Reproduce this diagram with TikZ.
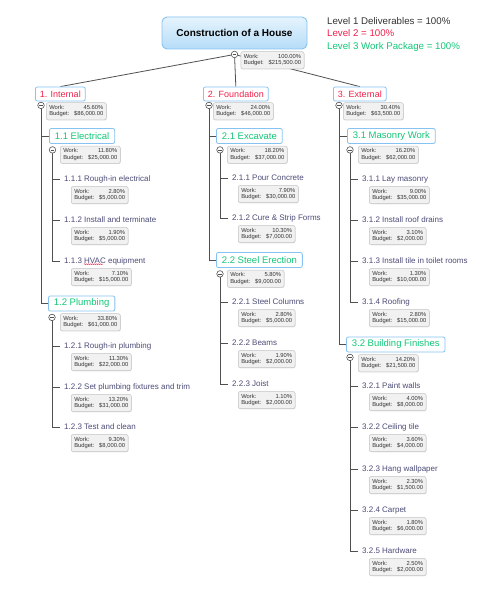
\documentclass[tikz,border=0pt]{standalone}
\usepackage{fontspec}
\setmainfont{Liberation Sans}
\usetikzlibrary{positioning,backgrounds,shadows,decorations.pathmorphing}
\definecolor{wbsLine}{HTML}{505050}
\definecolor{wbsBlue}{HTML}{86C3F2}
\definecolor{wbsRootTop}{HTML}{E6F4FD}
\definecolor{wbsRootBot}{HTML}{B6DCF8}
\definecolor{wbsRed}{HTML}{F0204A}
\definecolor{wbsGreen}{HTML}{12C877}
\definecolor{wbsTask}{HTML}{4C4C78}
\definecolor{wbsInfo}{HTML}{F1F1F1}
\definecolor{wbsInfoLine}{HTML}{C4C4C4}
\definecolor{wbsInk}{HTML}{333333}
\newcommand{\wb}[2]{\begin{tabular}{@{}l@{\hspace{5pt}}r@{}}Work: & #1\%\\Budget: & \$#2\end{tabular}}

\begin{document}
\begin{tikzpicture}[
  x=1pt,y=-1pt,
  root/.style={draw=wbsBlue,top color=wbsRootTop,bottom color=wbsRootBot,rounded corners=5pt,line width=0.9pt,minimum width=145pt,minimum height=32pt,font=\bfseries\fontsize{10}{12}\selectfont},
  lone/.style={draw=wbsBlue,fill=white,rounded corners=2pt,line width=0.8pt,text=wbsRed,font=\fontsize{9}{10}\selectfont,minimum height=14pt,inner xsep=4.5pt,inner ysep=0pt},
  ltwo/.style={lone,text=wbsGreen,font=\fontsize{9.5}{11}\selectfont,minimum height=15pt,inner xsep=5.5pt},
  task/.style={text=wbsTask,font=\fontsize{8}{9}\selectfont,inner sep=0pt,text height=6pt,text depth=2pt},
  info/.style={draw=wbsInfoLine,fill=wbsInfo,rounded corners=2pt,line width=0.5pt,inner xsep=3pt,inner ysep=2pt,text=wbsInk,font=\fontsize{5.8}{6.6}\selectfont,drop shadow={opacity=0.2,shadow xshift=0.6pt,shadow yshift=-0.6pt}},
  tog/.style={circle,draw=wbsLine,fill=white,line width=0.6pt,minimum size=6.5pt,inner sep=0pt,
    path picture={\draw[wbsLine,line width=0.6pt] ([xshift=-1.8pt]path picture bounding box.center) -- ([xshift=1.8pt]path picture bounding box.center);}},
  link/.style={draw=wbsLine,line width=0.8pt},
  tick/.style={link,shorten >=4.5pt},
  spell/.style={wbsRed,line width=0.4pt,decorate,decoration={snake,amplitude=0.5pt,segment length=2pt}}
]
  \useasboundingbox (0,0) rectangle (482,599);

  % top of the tree
  \node[root] (house) at (234.5,33) {Construction of a House};
  \node[tog] (houseC) at ([yshift=-5pt]house.south) {};
  \node[info,below right=2pt and 6pt of house.south] (houseW) {\wb{100.00}{215,500.00}};
  \node[anchor=north west,inner sep=0pt,align=left,font=\fontsize{9.7}{12.5}\selectfont] (lgd) at (327,17)
    {\textcolor{wbsInk}{Level 1 Deliverables = 100\%}\\\textcolor{wbsRed}{Level 2 = 100\%}\\\textcolor{wbsGreen}{Level 3 Work Package = 100\%}};

  % level 1
  \node[lone,anchor=west] (intl) at (35,94) {1. Internal};
  \node[lone,anchor=west] (found) at (203,94) {2. Foundation};
  \node[lone,anchor=west] (extl) at (333,94) {3. External};
  \node[tog] (intlC) at ([xshift=6pt,yshift=-4pt]intl.south west) {};
  \node[tog] (foundC) at ([xshift=6pt,yshift=-4pt]found.south west) {};
  \node[tog] (extlC) at ([xshift=6pt,yshift=-4pt]extl.south west) {};
  \node[info,below right=1pt and 11pt of intl.south west] (intlW) {\wb{45.60}{86,000.00}};
  \node[info,below right=1pt and 10pt of found.south west] (foundW) {\wb{24.00}{46,000.00}};
  \node[info,below right=1pt and 10pt of extl.south west] (extlW) {\wb{30.40}{63,500.00}};

  % 1. Internal
  \node[ltwo,anchor=west] (elec) at (49,136) {1.1 Electrical};
  \node[tog] (elecC) at ([xshift=3.5pt,yshift=-6pt]elec.south west) {};
  \node[info,below right=2pt and 11pt of elec.south west] (elecW) {\wb{11.80}{25,000.00}};
  \node[task,anchor=west] (rin) at (64,179) {1.1.1 Rough-in electrical};
  \node[info,below right=3pt and 7pt of rin.south west] (rinW) {\wb{2.80}{5,000.00}};
  \node[task,anchor=west] (term) at (64,220) {1.1.2 Install and terminate};
  \node[info,below right=3pt and 7pt of term.south west] (termW) {\wb{1.90}{5,000.00}};
  \node[task,anchor=west] (hvac) at (64,261) {1.1.3 HVAC equipment};
  \node[info,below right=3pt and 7pt of hvac.south west] (hvacW) {\wb{7.10}{15,000.00}};
  \node[ltwo,anchor=west] (plumb) at (48,303.5) {1.2 Plumbing};
  \node[tog] (plumbC) at ([xshift=4pt,yshift=-6pt]plumb.south west) {};
  \node[info,below right=2pt and 12pt of plumb.south west] (plumbW) {\wb{33.80}{61,000.00}};
  \node[task,anchor=west] (rinp) at (64,346) {1.2.1 Rough-in plumbing};
  \node[info,below right=3pt and 7pt of rinp.south west] (rinpW) {\wb{11.30}{22,000.00}};
  \node[task,anchor=west] (fixt) at (64,387) {1.2.2 Set plumbing fixtures and trim};
  \node[info,below right=3pt and 7pt of fixt.south west] (fixtW) {\wb{13.20}{31,000.00}};
  \node[task,anchor=west] (clean) at (64,427) {1.2.3 Test and clean};
  \node[info,below right=3pt and 7pt of clean.south west] (cleanW) {\wb{9.30}{8,000.00}};

  % 2. Foundation
  \node[ltwo,anchor=west] (exc) at (216,136) {2.1 Excavate};
  \node[tog] (excC) at ([xshift=4pt,yshift=-6pt]exc.south west) {};
  \node[info,below right=2pt and 11pt of exc.south west] (excW) {\wb{18.20}{37,000.00}};
  \node[task,anchor=west] (pour) at (232,178) {2.1.1 Pour Concrete};
  \node[info,below right=3pt and 6pt of pour.south west] (pourW) {\wb{7.90}{30,000.00}};
  \node[task,anchor=west] (cure) at (232,218) {2.1.2 Cure \& Strip Forms};
  \node[info,below right=3pt and 6pt of cure.south west] (cureW) {\wb{10.30}{7,000.00}};
  \node[ltwo,anchor=west] (steel) at (216,260) {2.2 Steel Erection};
  \node[tog] (steelC) at ([xshift=4pt,yshift=-6pt]steel.south west) {};
  \node[info,below right=2pt and 11pt of steel.south west] (steelW) {\wb{5.80}{9,000.00}};
  \node[task,anchor=west] (cols) at (232,302) {2.2.1 Steel Columns};
  \node[info,below right=3pt and 6pt of cols.south west] (colsW) {\wb{2.80}{5,000.00}};
  \node[task,anchor=west] (beams) at (232,343) {2.2.2 Beams};
  \node[info,below right=3pt and 6pt of beams.south west] (beamsW) {\wb{1.90}{2,000.00}};
  \node[task,anchor=west] (joist) at (232,384) {2.2.3 Joist};
  \node[info,below right=3pt and 6pt of joist.south west] (joistW) {\wb{1.10}{2,000.00}};

  % 3. External
  \node[ltwo,anchor=west] (mason) at (347,136) {3.1 Masonry Work};
  \node[tog] (masonC) at ([xshift=3pt,yshift=-6pt]mason.south west) {};
  \node[info,below right=2pt and 11pt of mason.south west] (masonW) {\wb{16.20}{62,000.00}};
  \node[task,anchor=west] (lay) at (362,179) {3.1.1 Lay masonry};
  \node[info,below right=3pt and 7pt of lay.south west] (layW) {\wb{9.00}{35,000.00}};
  \node[task,anchor=west] (drain) at (362,220) {3.1.2 Install roof drains};
  \node[info,below right=3pt and 7pt of drain.south west] (drainW) {\wb{3.10}{2,000.00}};
  \node[task,anchor=west] (tile) at (362,261) {3.1.3 Install tile in toilet rooms};
  \node[info,below right=3pt and 7pt of tile.south west] (tileW) {\wb{1.30}{10,000.00}};
  \node[task,anchor=west] (roof) at (362,302) {3.1.4 Roofing};
  \node[info,below right=3pt and 7pt of roof.south west] (roofW) {\wb{2.80}{15,000.00}};
  \node[ltwo,anchor=west] (finish) at (346,344.5) {3.2 Building Finishes};
  \node[tog] (finishC) at ([xshift=4pt,yshift=-5pt]finish.south west) {};
  \node[info,below right=2pt and 12pt of finish.south west] (finishW) {\wb{14.20}{21,500.00}};
  \node[task,anchor=west] (paint) at (362,386) {3.2.1 Paint walls};
  \node[info,below right=3pt and 7pt of paint.south west] (paintW) {\wb{4.00}{8,000.00}};
  \node[task,anchor=west] (ceil) at (362,427) {3.2.2 Ceiling tile};
  \node[info,below right=3pt and 7pt of ceil.south west] (ceilW) {\wb{3.60}{4,000.00}};
  \node[task,anchor=west] (paper) at (362,469) {3.2.3 Hang wallpaper};
  \node[info,below right=3pt and 7pt of paper.south west] (paperW) {\wb{2.30}{1,500.00}};
  \node[task,anchor=west] (carpet) at (362,510) {3.2.4 Carpet};
  \node[info,below right=3pt and 7pt of carpet.south west] (carpetW) {\wb{1.80}{6,000.00}};
  \node[task,anchor=west] (hard) at (362,551) {3.2.5 Hardware};
  \node[info,below right=3pt and 7pt of hard.south west] (hardW) {\wb{2.50}{2,000.00}};

  \draw[spell] ([xshift=20pt,yshift=1pt]hvac.south west) -- ++(19pt,0);

  \begin{scope}[on background layer]
    \fill[white] (0,0) rectangle (482,599);
    \draw[link] (houseC) -- (intl.north);
    \draw[link] (houseC) -- (found.north);
    \draw[link] (houseC) -- (extl.north);
    \draw[link] (intlC) |- (elec.west);
    \draw[link] (intlC) |- (plumb.west);
    \draw[link] (foundC) |- (exc.west);
    \draw[link] (foundC) |- (steel.west);
    \draw[link] (extlC) |- (mason.west);
    \draw[link] (extlC) |- (finish.west);
    \draw[tick] (elecC) |- (rin.west);
    \draw[tick] (elecC) |- (term.west);
    \draw[tick] (elecC) |- (hvac.west);
    \draw[tick] (plumbC) |- (rinp.west);
    \draw[tick] (plumbC) |- (fixt.west);
    \draw[tick] (plumbC) |- (clean.west);
    \draw[tick] (excC) |- (pour.west);
    \draw[tick] (excC) |- (cure.west);
    \draw[tick] (steelC) |- (cols.west);
    \draw[tick] (steelC) |- (beams.west);
    \draw[tick] (steelC) |- (joist.west);
    \draw[tick] (masonC) |- (lay.west);
    \draw[tick] (masonC) |- (drain.west);
    \draw[tick] (masonC) |- (tile.west);
    \draw[tick] (masonC) |- (roof.west);
    \draw[tick] (finishC) |- (paint.west);
    \draw[tick] (finishC) |- (ceil.west);
    \draw[tick] (finishC) |- (paper.west);
    \draw[tick] (finishC) |- (carpet.west);
    \draw[tick] (finishC) |- (hard.west);
  \end{scope}
\end{tikzpicture}
\end{document}
